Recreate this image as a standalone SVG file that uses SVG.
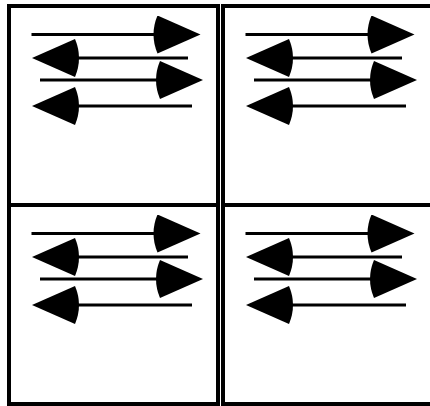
<svg xmlns="http://www.w3.org/2000/svg" width="430" height="406" viewBox="0 0 430 406">
<style>
.panel{fill:#fff;stroke:#000;stroke-width:4}
.arr{stroke:#000;stroke-width:3;fill:none;marker-end:url(#head)}
</style>
<defs>
<marker id="head" markerUnits="userSpaceOnUse" viewBox="-8 -19 52 38" markerWidth="52" markerHeight="38" refX="0" refY="0" orient="auto">
<path d="M43,0 L0,-19 Q-8,0 0,19 Z" fill="#000"/>
</marker>
</defs>
<rect width="430" height="406" fill="#fff"/>
<g id="panel-1"><rect class="panel" x="9" y="6" width="209" height="199"/></g>
<g id="panel-2"><rect class="panel" x="223" y="6" width="212" height="199"/></g>
<g id="panel-3"><rect class="panel" x="9" y="205" width="209" height="199"/></g>
<g id="panel-4"><rect class="panel" x="223" y="205" width="212" height="199"/></g>
<g id="connectors">
<g transform="translate(0,0)">
<line class="arr" x1="31.5" y1="34.5" x2="157.5" y2="34.5"/>
<line class="arr" x1="188" y1="58" x2="75" y2="58"/>
<line class="arr" x1="40" y1="80" x2="160" y2="80"/>
<line class="arr" x1="192" y1="106" x2="75" y2="106"/>
</g>
<g transform="translate(214,0)">
<line class="arr" x1="31.5" y1="34.5" x2="157.5" y2="34.5"/>
<line class="arr" x1="188" y1="58" x2="75" y2="58"/>
<line class="arr" x1="40" y1="80" x2="160" y2="80"/>
<line class="arr" x1="192" y1="106" x2="75" y2="106"/>
</g>
<g transform="translate(0,199)">
<line class="arr" x1="31.5" y1="34.5" x2="157.5" y2="34.5"/>
<line class="arr" x1="188" y1="58" x2="75" y2="58"/>
<line class="arr" x1="40" y1="80" x2="160" y2="80"/>
<line class="arr" x1="192" y1="106" x2="75" y2="106"/>
</g>
<g transform="translate(214,199)">
<line class="arr" x1="31.5" y1="34.5" x2="157.5" y2="34.5"/>
<line class="arr" x1="188" y1="58" x2="75" y2="58"/>
<line class="arr" x1="40" y1="80" x2="160" y2="80"/>
<line class="arr" x1="192" y1="106" x2="75" y2="106"/>
</g>
</g>
</svg>
